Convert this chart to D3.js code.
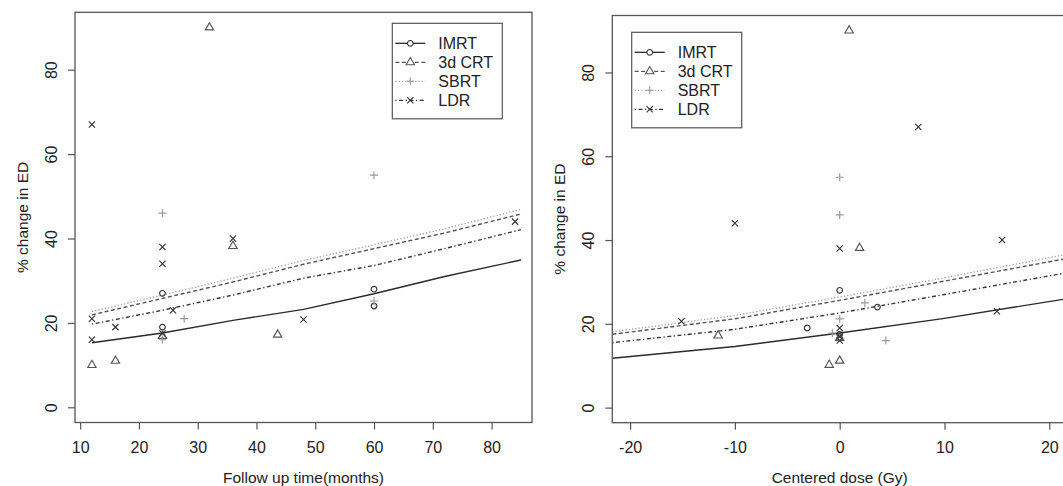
<!DOCTYPE html>
<html>
<head>
<meta charset="utf-8">
<script src="https://cdn.jsdelivr.net/npm/d3@7"></script>
<style>
body { margin: 0; background: #fff; }
svg { display: block; font-family: "Liberation Sans", Arial, sans-serif; }
</style>
</head>
<body>
<div id="chart"></div>
<script>
var modalities = ["IMRT", "3d CRT", "SBRT", "LDR"];
var monthTicks = [10, 20, 30, 40, 50, 60, 70, 80];
var doseTicks = [-20, -10, 0, 10, 20];
var edTicks = [0, 20, 40, 60, 80];

// left panel: follow up time vs % change in ED
var imrtMonths = [24, 24, 60, 60];
var imrtEdM = [27, 19, 28, 24];
var crtMonths = [12, 16, 24, 32, 36, 43.6];
var crtEdM = [10, 11, 16.9, 90, 38.2, 17.2];
var sbrtMonths = [24, 24, 27.7, 60, 60];
var sbrtEdM = [46, 16, 21, 55, 25.2];
var ldrMonths = [12, 12, 12, 16, 24, 24, 24, 25.8, 36, 48, 84];
var ldrEdM = [67, 21, 16, 19, 38, 34, 17.5, 23, 40, 20.8, 44];

// fitted curves, left panel
var fitMonths = [12, 24, 36, 48, 60, 72, 85];
var imrtFitM = [15.3, 17.6, 20.6, 23.2, 26.9, 31.0, 34.9];
var crtFitM = [21.9, 25.8, 29.7, 33.9, 37.6, 41.3, 45.8];
var sbrtFitM = [22.7, 26.6, 30.6, 34.8, 38.5, 42.3, 46.9];
var ldrFitM = [19.7, 23.0, 26.6, 30.6, 33.6, 37.6, 42.1];

// right panel: centered dose vs % change in ED
var imrtDose = [0, -3.1, 3.6, 0];
var imrtEdD = [28, 19, 24, 17.5];
var crtDose = [0.9, 1.9, -11.6, -1, 0, 0];
var crtEdD = [90, 38.1, 17.2, 10.2, 11.2, 16.6];
var sbrtDose = [0, 0, 2.4, 0, -0.7, 4.4];
var sbrtEdD = [55, 46, 25, 21.2, 17.8, 16];
var ldrDose = [7.5, -10, 0, 15.5, 15, -15.1, 0, 0, 0];
var ldrEdD = [67, 44, 38, 40, 23, 20.6, 19, 17, 16];

// fitted lines, right panel
var fitDose = [-21.7, -10, 0, 10, 21.7];
var imrtFitD = [11.8, 14.6, 17.8, 21.3, 26.0];
var crtFitD = [17.5, 21.2, 25.6, 30.2, 35.6];
var sbrtFitD = [18.1, 22.0, 26.4, 31.0, 36.6];
var ldrFitD = [15.5, 18.7, 22.6, 27.0, 32.2];

var styles = [
  { sym: d3.symbolCircle, size: 25, pt: "#333", line: "#2b2b2b", dash: null },
  { sym: d3.symbolTriangle2 || d3.symbolTriangle, size: 50, pt: "#555", line: "#555", dash: "4,2.5" },
  { sym: d3.symbolPlus || d3.symbolCross, size: 23, pt: "#999", line: "#a5a5a5", dash: "1.3,2" },
  { sym: d3.symbolTimes || d3.symbolCross, size: 27, pt: "#333", line: "#363636", dash: "1.3,2.5,4,2.5" }
];

var svg = d3.select("#chart").append("svg")
  .attr("width", 1063)
  .attr("height", 486);

function panel(p) {
  var x = d3.scaleLinear().domain(p.xDomain).range([p.left, p.right]);
  var y = d3.scaleLinear().domain([-3.6, 93.6]).range([p.bottom, p.top]);
  var g = svg.append("g");

  var clipId = "clip" + p.id;
  g.append("clipPath").attr("id", clipId).append("rect")
    .attr("x", p.left).attr("y", p.top)
    .attr("width", p.right - p.left).attr("height", p.bottom - p.top);

  // axes (R style hyphen minus)
  var fmt = function(d) { return String(d); };
  var xAxis = g.append("g")
    .attr("transform", "translate(0," + p.bottom + ")")
    .call(d3.axisBottom(x).tickValues(p.xTicks).tickFormat(fmt).tickSize(7).tickSizeOuter(0));
  xAxis.select(".domain").remove();
  xAxis.selectAll("line").attr("stroke", "#555").attr("stroke-width", 1.2);
  xAxis.selectAll("text").attr("fill", "#222").style("font-size", "16px")
    .attr("y", 0).attr("dy", 0).attr("transform", "translate(0,30)");

  var yAxis = g.append("g")
    .attr("transform", "translate(" + p.left + ",0)")
    .call(d3.axisLeft(y).tickValues(edTicks).tickFormat(fmt).tickSize(7).tickSizeOuter(0));
  yAxis.select(".domain").remove();
  yAxis.selectAll("line").attr("stroke", "#555").attr("stroke-width", 1.2);
  yAxis.selectAll("text").attr("fill", "#222").style("font-size", "16px")
    .attr("transform", "rotate(-90)")
    .attr("x", 0).attr("y", -18).attr("dy", 0)
    .style("text-anchor", "middle");

  // axis titles
  g.append("text")
    .attr("x", (p.left + p.right) / 2)
    .attr("y", 483)
    .attr("text-anchor", "middle")
    .attr("fill", "#222")
    .style("font-size", "15.5px")
    .text(p.xTitle);

  g.append("text")
    .attr("transform", "translate(" + (p.left - 47) + "," + ((p.top + p.bottom) / 2) + ") rotate(-90)")
    .attr("text-anchor", "middle")
    .attr("fill", "#222")
    .style("font-size", "15.5px")
    .text("% change in ED");

  // fitted lines
  var line = d3.line().x(function(d) { return x(d[0]); }).y(function(d) { return y(d[1]); });
  p.fits.forEach(function(vals, i) {
    var pts = p.fitX.map(function(v, j) { return [v, vals[j]]; });
    g.append("path")
      .attr("clip-path", "url(#" + clipId + ")")
      .attr("d", line(pts))
      .attr("fill", "none")
      .attr("stroke", styles[i].line)
      .attr("stroke-width", 1.4)
      .attr("stroke-dasharray", styles[i].dash);
  });

  // points
  p.series.forEach(function(s, i) {
    var pts = s[0].map(function(v, j) { return [v, s[1][j]]; });
    g.selectAll(null)
      .data(pts)
      .enter()
      .append("path")
      .attr("d", d3.symbol(styles[i].sym, styles[i].size))
      .attr("transform", function(d) { return "translate(" + x(d[0]) + "," + y(d[1]) + ")"; })
      .attr("fill", "none")
      .attr("stroke", styles[i].pt)
      .attr("stroke-width", 1.15);
  });

  // frame
  g.append("rect")
    .attr("x", p.left).attr("y", p.top)
    .attr("width", p.right - p.left).attr("height", p.bottom - p.top)
    .attr("fill", "none")
    .attr("stroke", "#555")
    .attr("stroke-width", 1.3);

  // legend
  var lg = g.append("g").attr("transform", "translate(" + p.legend[0] + "," + p.legend[1] + ")");
  lg.append("rect")
    .attr("width", 110).attr("height", 95.5)
    .attr("fill", "#fff")
    .attr("stroke", "#555")
    .attr("stroke-width", 1.2);
  modalities.forEach(function(name, i) {
    var ry = 20 + i * 19;
    lg.append("line")
      .attr("x1", 3).attr("x2", 33).attr("y1", ry).attr("y2", ry)
      .attr("stroke", styles[i].line)
      .attr("stroke-width", 1.3)
      .attr("stroke-dasharray", styles[i].dash);
    lg.append("path")
      .attr("d", d3.symbol(styles[i].sym, styles[i].size))
      .attr("transform", "translate(18," + ry + ")")
      .attr("fill", "#fff")
      .attr("stroke", styles[i].pt)
      .attr("stroke-width", 1.1);
    lg.append("text")
      .attr("x", 46).attr("y", ry + 5.8)
      .attr("fill", "#222")
      .style("font-size", "16px")
      .text(name);
  });
}

panel({
  id: "a",
  left: 75, right: 532, top: 12.3, bottom: 422.5,
  xDomain: [9.12, 86.88],
  xTicks: monthTicks,
  xTitle: "Follow up time(months)",
  fitX: fitMonths,
  fits: [imrtFitM, crtFitM, sbrtFitM, ldrFitM],
  series: [[imrtMonths, imrtEdM], [crtMonths, crtEdM], [sbrtMonths, sbrtEdM], [ldrMonths, ldrEdM]],
  legend: [392.3, 23.3]
});

panel({
  id: "b",
  left: 612.3, right: 1067.1, top: 15.5, bottom: 422.7,
  xDomain: [-21.7, 21.7],
  xTicks: doseTicks,
  xTitle: "Centered dose (Gy)",
  fitX: fitDose,
  fits: [imrtFitD, crtFitD, sbrtFitD, ldrFitD],
  series: [[imrtDose, imrtEdD], [crtDose, crtEdD], [sbrtDose, sbrtEdD], [ldrDose, ldrEdD]],
  legend: [631.7, 32.3]
});
</script>
</body>
</html>
